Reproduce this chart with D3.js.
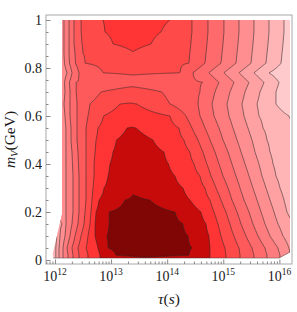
<!DOCTYPE html>
<html>
<head>
<meta charset="utf-8">
<script src="https://cdn.jsdelivr.net/npm/d3@7"></script>
<style>
  body { margin: 0; background: #fff; }
  text { font-family: "Liberation Serif", "DejaVu Serif", serif; fill: #1a1a1a; }
</style>
</head>
<body>
<svg id="chart" width="297" height="312"></svg>
<script>
// rows of the field (m_V in GeV)
const mRows = [0, 0.02, 0.05, 0.1, 0.15, 0.2, 0.25, 0.3, 0.35, 0.4, 0.45, 0.5,
  0.55, 0.6, 0.65, 0.7, 0.74, 0.78, 0.82, 0.86, 0.9, 0.95, 1.0];

// for every row: [log10(tau/s), contour level]
const rowKnots = [
  [[11.83,1.2],[12.018,2],[12.071,3],[12.143,4],[12.232,5],[12.321,6],[12.428,7],[12.588,8],[12.802,9],[13.6,9.6],[14.763,9],[15.048,8],[15.298,7],[15.547,6],[15.779,5],[16.011,4],[16.189,3],[16.23,2.8]],
  [[11.83,1.2],[12.018,2],[12.071,3],[12.143,4],[12.232,5],[12.321,6],[12.428,7],[12.588,8],[12.802,9],[13.087,10],[13.6,10.3],[14.389,10],[14.763,9],[15.048,8],[15.298,7],[15.547,6],[15.779,5],[16.011,4],[16.189,3],[16.23,2.8]],
  [[11.83,1.2],[12.018,2],[12.071,3],[12.143,4],[12.214,5],[12.303,6],[12.41,7],[12.553,8],[12.766,9],[12.945,10],[13.515,10.7],[14.442,10],[14.763,9],[15.03,8],[15.28,7],[15.512,6],[15.743,5],[15.975,4],[16.171,3],[16.23,2.8]],
  [[11.83,1.2],[12.036,2],[12.089,3],[12.178,4],[12.267,5],[12.357,6],[12.463,7],[12.588,8],[12.713,9],[12.927,10],[13.515,10.7],[14.371,10],[14.745,9],[14.959,8],[15.191,7],[15.405,6],[15.619,5],[15.832,4],[16.064,3],[16.23,2.4]],
  [[11.83,2.0],[12.125,3],[12.196,4],[12.303,5],[12.41,6],[12.517,7],[12.624,8],[12.713,9],[12.963,10],[13.515,10.6],[14.282,10],[14.692,9],[14.906,8],[15.119,7],[15.316,6],[15.529,5],[15.743,4],[15.975,3],[16.23,2.1]],
  [[11.83,2.5],[12.125,3.4],[12.196,4],[12.321,5],[12.428,6],[12.535,7],[12.642,8],[12.731,9],[12.963,10],[13.515,10.4],[14.139,10],[14.602,9],[14.834,8],[15.048,7],[15.244,6],[15.458,5],[15.672,4],[15.904,3],[16.135,2],[16.23,1.6]],
  [[11.83,2.5],[12.125,3.4],[12.196,4],[12.321,5],[12.428,6],[12.553,7],[12.66,8],[12.784,9],[13.248,10],[13.462,10.06],[13.693,10],[14.406,9],[14.763,8],[14.959,7],[15.155,6],[15.369,5],[15.601,4],[15.832,3],[16.082,2],[16.23,1.4]],
  [[11.83,2.5],[12.125,3.4],[12.196,4],[12.321,5],[12.428,6],[12.553,7],[12.677,8],[12.873,9],[13.39,9.95],[14.282,9],[14.674,8],[14.87,7],[15.084,6],[15.298,5],[15.529,4],[15.761,3],[16.011,2],[16.23,1.3]],
  [[11.83,2.5],[12.125,3.4],[12.196,4],[12.321,5],[12.428,6],[12.553,7],[12.695,8],[12.945,9],[13.39,9.85],[14.139,9],[14.585,8],[14.781,7],[14.995,6],[15.226,5],[15.458,4],[15.69,3],[15.939,2],[16.23,1.2]],
  [[11.83,2.5],[12.125,3.4],[12.196,4],[12.312,5],[12.419,6],[12.553,7],[12.695,8],[12.98,9],[13.39,9.7],[14.023,9],[14.478,8],[14.709,7],[14.923,6],[15.155,5],[15.387,4],[15.636,3],[15.886,2],[16.23,1.15]],
  [[11.83,2.5],[12.125,3.4],[12.196,4],[12.303,5],[12.41,6],[12.553,7],[12.713,8],[13.034,9],[13.39,9.55],[13.943,9],[14.406,8],[14.638,7],[14.852,6],[15.084,5],[15.316,4],[15.565,3],[15.832,2],[16.23,1.1]],
  [[11.83,2.5],[12.125,3.4],[12.196,4],[12.285,5],[12.392,6],[12.553,7],[12.731,8],[13.096,9],[13.39,9.35],[13.747,9],[14.299,8],[14.549,7],[14.763,6],[14.995,5],[15.244,4],[15.512,3],[15.779,2],[16.23,1.1]],
  [[11.83,2.5],[12.125,3.4],[12.196,4],[12.285,5],[12.392,6],[12.553,7],[12.766,8],[13.283,9],[13.37,9.03],[13.444,9],[14.21,8],[14.442,7],[14.674,6],[14.923,5],[15.173,4],[15.44,3],[15.708,2],[16.23,1.05]],
  [[11.83,2.5],[12.125,3.4],[12.178,4],[12.267,5],[12.392,6],[12.588,7],[12.865,8],[13.355,8.6],[14.05,8],[14.335,7],[14.585,6],[14.834,5],[15.102,4],[15.369,3],[15.636,2],[16.171,1],[16.23,0.9]],
  [[11.83,2.5],[12.125,3.5],[12.16,4],[12.267,5],[12.392,6],[12.624,7],[13.159,8],[13.32,8.05],[13.462,8],[14.05,7],[14.549,6],[14.799,5],[15.066,4],[15.333,3],[15.601,2],[15.939,1],[16.23,0.2]],
  [[11.83,2.5],[12.125,3.4],[12.178,4],[12.267,5],[12.374,6],[12.82,7],[13.355,7.5],[13.907,7],[14.585,6],[14.852,5],[15.119,4],[15.387,3],[15.654,2],[15.939,1],[16.23,0.0]],
  [[11.83,2.5],[12.125,3.5],[12.169,4],[12.258,5],[12.374,6],[13.39,6.6],[14.638,6],[14.923,5],[15.191,4],[15.458,3],[15.725,2],[15.993,1],[16.23,0.2]],
  [[11.83,2.5],[12.125,3.3],[12.214,4],[12.303,5],[12.428,6],[12.856,7],[13.39,7.12],[14.228,7],[14.46,6],[14.745,5],[15.012,4],[15.28,3],[15.547,2],[15.815,1],[16.23,0.0]],
  [[11.83,2.5],[12.125,3.55],[12.169,4],[12.258,5],[12.365,6],[12.535,7],[13.39,7.5],[14.389,7],[14.674,6],[14.959,5],[15.226,4],[15.494,3],[15.761,2],[16.029,1],[16.23,0.4]],
  [[11.83,2.5],[12.125,3.6],[12.16,4],[12.25,5],[12.357,6],[12.499,7],[13.39,7.95],[14.406,7],[14.692,6],[14.977,5],[15.244,4],[15.512,3],[15.779,2],[16.046,1],[16.23,0.4]],
  [[11.83,2.5],[12.125,3.6],[12.16,4],[12.25,5],[12.339,6],[12.481,7],[13.034,8],[13.39,8.2],[13.711,8],[14.424,7],[14.709,6],[14.995,5],[15.262,4],[15.529,3],[15.797,2],[16.064,1],[16.23,0.45]],
  [[11.83,2.5],[12.125,3.6],[12.16,4],[12.25,5],[12.339,6],[12.463,7],[12.891,8],[13.39,8.4],[13.889,8],[14.442,7],[14.727,6],[15.012,5],[15.28,4],[15.547,3],[15.815,2],[16.082,1],[16.23,0.5]],
  [[11.83,2.5],[12.125,3.6],[12.16,4],[12.25,5],[12.339,6],[12.463,7],[12.856,8],[13.444,8.6],[14.05,8],[14.442,7],[14.727,6],[15.012,5],[15.28,4],[15.547,3],[15.815,2],[16.082,1],[16.23,0.5]]
];

// outline of the sampled region [log10 tau, m]
const dataHull = [[12.125,1.0],[16.189,1.0],[16.189,0.033],[15.993,0.008],[11.97,0.008],[11.96,0.026],[12.125,0.19]];

const thresholds = [1, 2, 3, 4, 5, 6, 7, 8, 9, 10];
const levelColors = ['#ffcacc', '#ffb4b6', '#ffa0a2', '#ff8e90', '#ff7c7e', '#ff6a6c',
  '#ff5a5b', '#ff4a4a', '#ff3434', '#c70a0a', '#800505'];

const xDecades = [12, 13, 14, 15, 16];
const yTicks = [0, 0.2, 0.4, 0.6, 0.8, 1];
const yTickLabels = ['0', '0.2', '0.4', '0.6', '0.8', '1'];

const svg = d3.select('#chart');
const frameL = 46, frameR = 292, frameT = 15, frameB = 264;

const x = d3.scaleLog()
  .domain([Math.pow(10, 11.84), Math.pow(10, 16.225)])
  .range([frameL, frameR]);
const y = d3.scaleLinear()
  .domain([-0.0167, 1.0208])
  .range([frameB, frameT]);

// grid for d3.contours
const L0 = 11.83, step = 0.01;
const nx = Math.round((16.23 - L0) / step) + 1;
const ny = mRows.length;
const values = new Array(nx * ny);
rowKnots.forEach((knots, j) => {
  const f = d3.scaleLinear().domain(knots.map(d => d[0])).range(knots.map(d => d[1]));
  for (let i = 0; i < nx; i++) values[j * nx + i] = f(L0 + i * step);
});
const rowScale = d3.scaleLinear().domain(d3.range(ny)).range(mRows);

const path = d3.geoPath(d3.geoTransform({
  point: function(cx, cy) {
    const L = L0 + (cx - 0.5) * step;
    this.stream.point(x(Math.pow(10, L)), y(rowScale(cy - 0.5)));
  }
}));

const contours = d3.contours().size([nx, ny]).thresholds(thresholds)(values);

const hullPts = dataHull.map(d => [x(Math.pow(10, d[0])), y(d[1])]);
svg.append('clipPath').attr('id', 'hull')
  .append('path').attr('d', 'M' + hullPts.join('L') + 'Z');

const plot = svg.append('g').attr('clip-path', 'url(#hull)');
plot.append('path')
  .attr('d', 'M' + hullPts.join('L') + 'Z')
  .attr('fill', levelColors[0]);
plot.selectAll('path.band')
  .data(contours)
  .enter()
  .append('path')
  .attr('class', 'band')
  .attr('d', path)
  .attr('fill', d => levelColors[d.value]);
plot.selectAll('path.line')
  .data(contours)
  .enter()
  .append('path')
  .attr('class', 'line')
  .attr('d', path)
  .attr('fill', 'none')
  .attr('stroke', '#2a2a2a')
  .attr('stroke-opacity', 0.75)
  .attr('stroke-width', 0.75);

// bottom edge of the region
svg.append('path')
  .attr('d', 'M' + [hullPts[4], hullPts[3], hullPts[2]].join('L'))
  .attr('fill', 'none')
  .attr('stroke', '#333')
  .attr('stroke-opacity', 0.6)
  .attr('stroke-width', 0.75);

// frame
svg.append('rect')
  .attr('x', frameL).attr('y', frameT)
  .attr('width', frameR - frameL).attr('height', frameB - frameT)
  .attr('fill', 'none')
  .attr('stroke', '#a8a8a8')
  .attr('stroke-width', 1);

// x ticks
const majorX = xDecades.map(p => Math.pow(10, p));
const minorX = [];
for (let p = 11; p <= 16; p++) {
  for (let k = 2; k <= 9; k++) {
    const v = k * Math.pow(10, p);
    if (v > x.domain()[0] && v < x.domain()[1]) minorX.push(v);
  }
}
const xAxisMajor = d3.axisBottom(x).tickValues(majorX).tickSize(-4.5).tickFormat('');
const xAxisMinor = d3.axisBottom(x).tickValues(minorX).tickSize(-2.5).tickFormat('');
[xAxisMajor, xAxisMinor].forEach(ax => {
  svg.append('g')
    .attr('transform', 'translate(0,' + frameB + ')')
    .call(ax)
    .call(g => g.select('.domain').remove())
    .call(g => g.selectAll('line').attr('stroke', '#888'));
});
svg.selectAll('text.xlab')
  .data(xDecades)
  .enter()
  .append('text')
  .attr('class', 'xlab')
  .attr('x', d => x(Math.pow(10, d)))
  .attr('y', 281)
  .attr('text-anchor', 'middle')
  .attr('font-size', 14)
  .each(function(d) {
    const t = d3.select(this);
    t.append('tspan').text('10');
    t.append('tspan').attr('font-size', 9.5).attr('dy', -6).text(d);
  });

// y ticks
const minorY = d3.range(0, 1.0001, 0.05).filter(v => Math.round(v * 100) % 20 !== 0);
const yAxisMajor = d3.axisLeft(y).tickValues(yTicks).tickSize(-4.5).tickFormat('');
const yAxisMinor = d3.axisLeft(y).tickValues(minorY).tickSize(-2.5).tickFormat('');
[yAxisMajor, yAxisMinor].forEach(ax => {
  svg.append('g')
    .attr('transform', 'translate(' + frameL + ',0)')
    .call(ax)
    .call(g => g.select('.domain').remove())
    .call(g => g.selectAll('line').attr('stroke', '#888'));
});
svg.selectAll('text.ylab')
  .data(yTicks)
  .enter()
  .append('text')
  .attr('class', 'ylab')
  .attr('x', 42)
  .attr('y', d => y(d))
  .attr('dy', '0.35em')
  .attr('text-anchor', 'end')
  .attr('font-size', 14)
  .text((d, i) => yTickLabels[i]);

// axis titles
const xt = svg.append('text')
  .attr('x', (frameL + frameR) / 2)
  .attr('y', 304)
  .attr('text-anchor', 'middle')
  .attr('font-size', 15.5);
xt.append('tspan').attr('font-style', 'italic').text('τ');
xt.append('tspan').text('(');
xt.append('tspan').attr('font-style', 'italic').text('s');
xt.append('tspan').text(')');

const yt = svg.append('text')
  .attr('transform', 'translate(15,' + ((frameT + frameB) / 2) + ') rotate(-90)')
  .attr('text-anchor', 'middle')
  .attr('font-size', 15.5);
yt.append('tspan').attr('font-style', 'italic').text('m');
yt.append('tspan').attr('font-style', 'italic').attr('font-size', 10.5).attr('dy', 3).text('V');
yt.append('tspan').attr('dy', -3).text('(GeV)');
</script>
</body>
</html>
